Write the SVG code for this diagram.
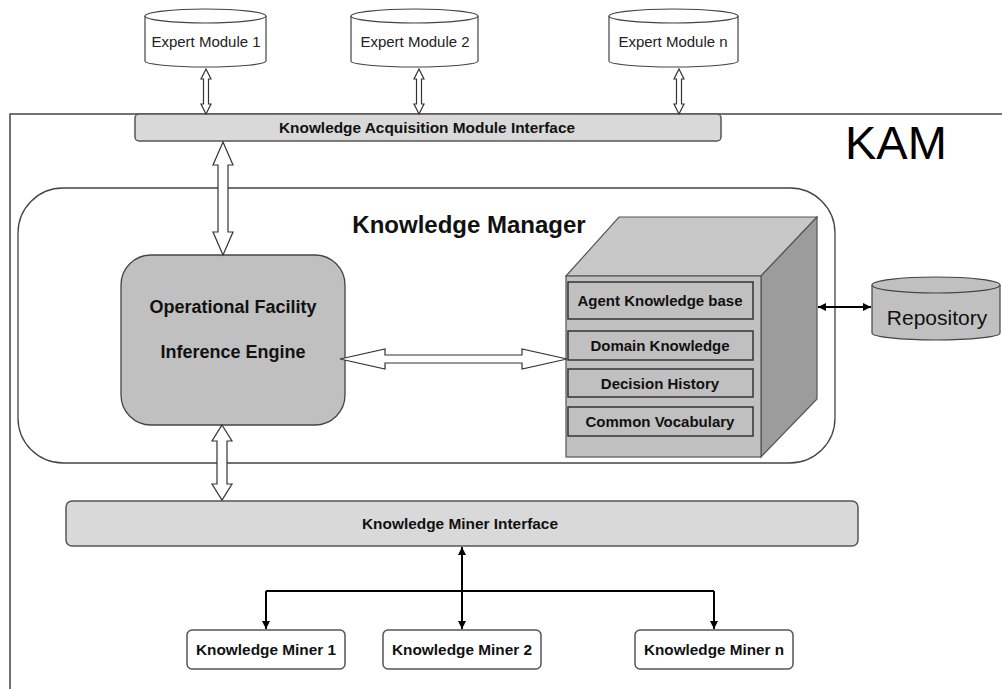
<svg xmlns="http://www.w3.org/2000/svg" width="1002" height="689" viewBox="0 0 1002 689">
<defs>
<style>
text{font-family:"Liberation Sans",Arial,sans-serif;}
.em{font-size:15px;fill:#222;text-anchor:middle;}
.b{font-weight:bold;fill:#111;text-anchor:middle;}
.cyl{fill:#fff;stroke:#444;stroke-width:1.2;}
.bar{fill:#d9d9d9;stroke:#555;stroke-width:1.5;}
.harrow{fill:#fff;stroke:#333;stroke-width:1.2;}
.line{fill:none;stroke:#000;stroke-width:2;}
.inbox{fill:#c0c0c0;stroke:#333;stroke-width:1.5;}
.mbox{fill:#fff;stroke:#555;stroke-width:1.5;}
</style>
<marker id="ah" viewBox="0 0 10 10" refX="10" refY="5" markerWidth="9" markerHeight="8" markerUnits="userSpaceOnUse" orient="auto-start-reverse">
<path d="M0,0 L10,5 L0,10 z" fill="#000"/>
</marker>
</defs>
<rect width="1002" height="689" fill="#fff"/>

<g id="kam-frame">
<path d="M1002,114 H10 V689" fill="none" stroke="#444" stroke-width="1.5"/>
<text x="845" y="159" font-size="47" fill="#000">KAM</text>
</g>

<g id="expert-module-1">
<path class="cyl" d="M145,16 A60.5,7 0 0 1 266,16 V61 A60.5,6 0 0 1 145,61 Z"/>
<path class="cyl" d="M145,16 A60.5,7 0 0 0 266,16" fill="none"/>
<text class="em" x="206" y="47">Expert Module 1</text>
</g>
<g id="expert-module-2">
<path class="cyl" d="M351,16 A63.5,7 0 0 1 478,16 V61 A63.5,6 0 0 1 351,61 Z"/>
<path class="cyl" d="M351,16 A63.5,7 0 0 0 478,16" fill="none"/>
<text class="em" x="415" y="47">Expert Module 2</text>
</g>
<g id="expert-module-n">
<path class="cyl" d="M609,16 A64.5,7 0 0 1 738,16 V61 A64.5,6 0 0 1 609,61 Z"/>
<path class="cyl" d="M609,16 A64.5,7 0 0 0 738,16" fill="none"/>
<text class="em" x="673" y="47">Expert Module n</text>
</g>

<g id="kam-interface">
<rect class="bar" x="135" y="114" width="586" height="27" rx="4"/>
<text class="b" x="427" y="133" font-size="14" textLength="296" lengthAdjust="spacingAndGlyphs">Knowledge Acquisition Module Interface</text>
</g>

<g id="knowledge-manager">
<rect x="18" y="188" width="817" height="275" rx="45" fill="#fff" stroke="#444" stroke-width="1.3"/>
<text class="b" x="469" y="233" font-size="24">Knowledge Manager</text>
</g>

<g id="inference-engine">
<rect x="121" y="255" width="224" height="170" rx="30" fill="#c0c0c0" stroke="#444" stroke-width="1.3"/>
<text class="b" x="233" y="313" font-size="18">Operational Facility</text>
<text class="b" x="233" y="358" font-size="18">Inference Engine</text>
</g>

<g id="knowledge-base">
<polygon points="566,276 619,217 817,217 761,276" fill="#c8c8c8" stroke="#555" stroke-width="1.2"/>
<polygon points="761,276 817,217 817,399 761,457" fill="#9c9c9c" stroke="#555" stroke-width="1.2"/>
<rect x="566" y="276" width="195" height="181" fill="#c0c0c0" stroke="#555" stroke-width="1.2"/>
<rect class="inbox" x="568" y="282" width="185" height="37"/>
<rect class="inbox" x="568" y="331" width="185" height="29"/>
<rect class="inbox" x="568" y="369" width="185" height="28"/>
<rect class="inbox" x="568" y="407" width="185" height="29"/>
<text class="b" x="660" y="306" font-size="15">Agent Knowledge base</text>
<text class="b" x="660" y="351" font-size="15">Domain Knowledge</text>
<text class="b" x="660" y="389" font-size="15">Decision History</text>
<text class="b" x="660" y="427" font-size="15">Common Vocabulary</text>
</g>

<g id="repository">
<path d="M872,285 A64,8 0 0 1 1000,285 V333 A64,7 0 0 1 872,333 Z" fill="#c0c0c0" stroke="#444" stroke-width="1.2"/>
<path d="M872,285 A64,8 0 0 0 1000,285" fill="none" stroke="#444" stroke-width="1.2"/>
<text x="937" y="325" font-size="21" fill="#111" text-anchor="middle">Repository</text>
</g>

<g id="miner-interface">
<rect class="bar" x="66" y="501" width="792" height="45" rx="6"/>
<text class="b" x="460" y="529" font-size="15" textLength="196" lengthAdjust="spacingAndGlyphs">Knowledge Miner Interface</text>
</g>

<g id="knowledge-miner-1">
<rect class="mbox" x="187" y="630" width="158" height="39" rx="5"/>
<text class="b" x="266" y="655" font-size="15" textLength="140" lengthAdjust="spacingAndGlyphs">Knowledge Miner 1</text>
</g>
<g id="knowledge-miner-2">
<rect class="mbox" x="383" y="630" width="158" height="39" rx="5"/>
<text class="b" x="462" y="655" font-size="15" textLength="140" lengthAdjust="spacingAndGlyphs">Knowledge Miner 2</text>
</g>
<g id="knowledge-miner-n">
<rect class="mbox" x="635" y="630" width="158" height="39" rx="5"/>
<text class="b" x="714" y="655" font-size="15" textLength="140" lengthAdjust="spacingAndGlyphs">Knowledge Miner n</text>
</g>

<g id="connectors">
<polygon class="harrow" points="206,69 211,79 208.5,79 208.5,104 211,104 206,114 201,104 203.5,104 203.5,79 201,79"/>
<polygon class="harrow" points="419,69 424,79 421.5,79 421.5,104 424,104 419,114 414,104 416.5,104 416.5,79 414,79"/>
<polygon class="harrow" points="679,69 684,79 681.5,79 681.5,104 684,104 679,114 674,104 676.5,104 676.5,79 674,79"/>
<polygon class="harrow" points="223,142 233,165 228,165 228,232 233,232 223,255 213,232 218,232 218,165 213,165"/>
<polygon class="harrow" points="340,359 385,349 385,355 522,355 522,349 567,359 522,369 522,363 385,363 385,369"/>
<polygon class="harrow" points="222,425 232,441 227,441 227,484 232,484 222,500 212,484 217,484 217,441 212,441"/>
<line x1="818" y1="307" x2="871" y2="307" stroke="#000" stroke-width="2" marker-start="url(#ah)" marker-end="url(#ah)"/>
<path class="line" d="M266,591 H714"/>
<path class="line" d="M462,547 V629" marker-start="url(#ah)" marker-end="url(#ah)"/>
<path class="line" d="M266,591 V629" marker-end="url(#ah)"/>
<path class="line" d="M714,591 V629" marker-end="url(#ah)"/>
</g>
</svg>
